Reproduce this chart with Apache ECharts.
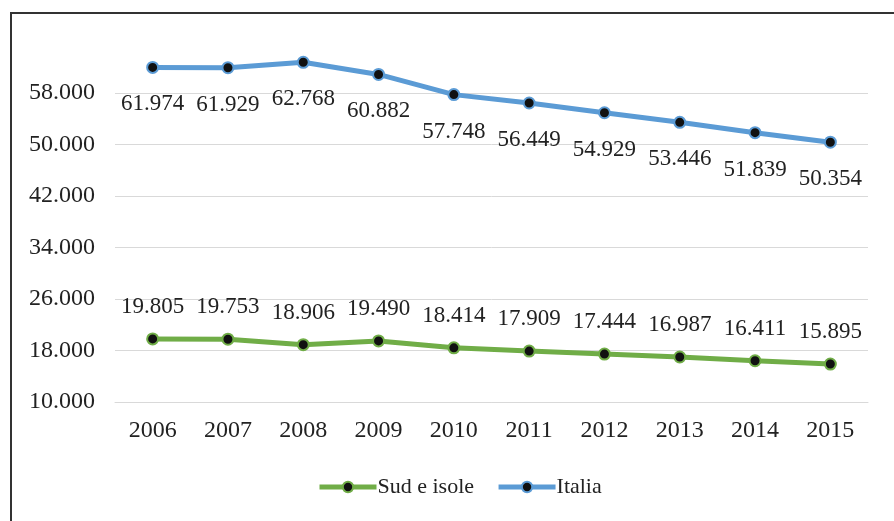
<!DOCTYPE html>
<html>
<head>
<meta charset="utf-8">
<script src="https://cdn.jsdelivr.net/npm/echarts@6/dist/echarts.min.js"></script>
<style>
  html, body { margin: 0; padding: 0; background: #fff; }
  #chart { width: 894px; height: 521px; }
</style>
</head>
<body>
<div id="chart"></div>
<script>
// anni
var years = ['2006', '2007', '2008', '2009', '2010', '2011', '2012', '2013', '2014', '2015'];
// valori
var italia = [61974, 61929, 62768, 60882, 57748, 56449, 54929, 53446, 51839, 50354];
var sudIsole = [19805, 19753, 18906, 19490, 18414, 17909, 17444, 16987, 16411, 15895];

var serif = '"Liberation Serif", "Times New Roman", serif';

// 61974 -> "61.974"
function fmt(v) {
    return (v / 1000).toFixed(3);
}

var myChart = echarts.init(document.getElementById('chart'));
var option = {
    backgroundColor: '#fff',
    animation: false,
    grid: { left: 115, right: 26, top: 41.5, bottom: 119 },
    legend: {
        bottom: 18,
        left: 312,
        itemWidth: 57,
        itemHeight: 13,
        itemGap: 22,
        data: ['Sud e isole', 'Italia'],
        lineStyle: { width: 5 },
        textStyle: { fontFamily: serif, fontSize: 22, color: '#222', padding: [0, 0, 0, -4] }
    },
    xAxis: {
        type: 'category',
        data: years,
        boundaryGap: true,
        axisLine: { lineStyle: { color: '#d9d9d9' } },
        axisTick: { show: false },
        axisLabel: { fontFamily: serif, fontSize: 24, color: '#222', margin: 17 }
    },
    yAxis: {
        type: 'value',
        min: 10000,
        max: 66000,
        interval: 8000,
        axisLine: { show: false },
        axisTick: { show: false },
        splitLine: { showMaxLine: false, lineStyle: { color: '#d9d9d9', width: 1 } },
        axisLabel: {
            showMaxLabel: false,
            fontFamily: serif, fontSize: 24, color: '#222', margin: 20,
            formatter: fmt
        }
    },
    series: [{
        name: 'Sud e isole',
        type: 'line',
        data: sudIsole,
        symbol: 'circle',
        symbolSize: 11,
        lineStyle: { color: '#70ad47', width: 5 },
        itemStyle: { color: '#111', borderColor: '#70ad47', borderWidth: 2 },
        label: {
            show: true, position: 'top', distance: 14,
            fontFamily: serif, fontSize: 23, color: '#222',
            formatter: function(p) { return fmt(p.value); }
        }
    }, {
        name: 'Italia',
        type: 'line',
        data: italia,
        symbol: 'circle',
        symbolSize: 11,
        lineStyle: { color: '#5b9bd5', width: 5 },
        itemStyle: { color: '#111', borderColor: '#5b9bd5', borderWidth: 2 },
        label: {
            show: true, position: 'bottom', distance: 19,
            fontFamily: serif, fontSize: 23, color: '#222',
            formatter: function(p) { return fmt(p.value); }
        }
    }],
    graphic: [{
        type: 'polyline',
        shape: { points: [[11, 521], [11, 13], [894, 13]] },
        style: { stroke: '#333', lineWidth: 2, fill: null }
    }]
};
myChart.setOption(option);
</script>
</body>
</html>
